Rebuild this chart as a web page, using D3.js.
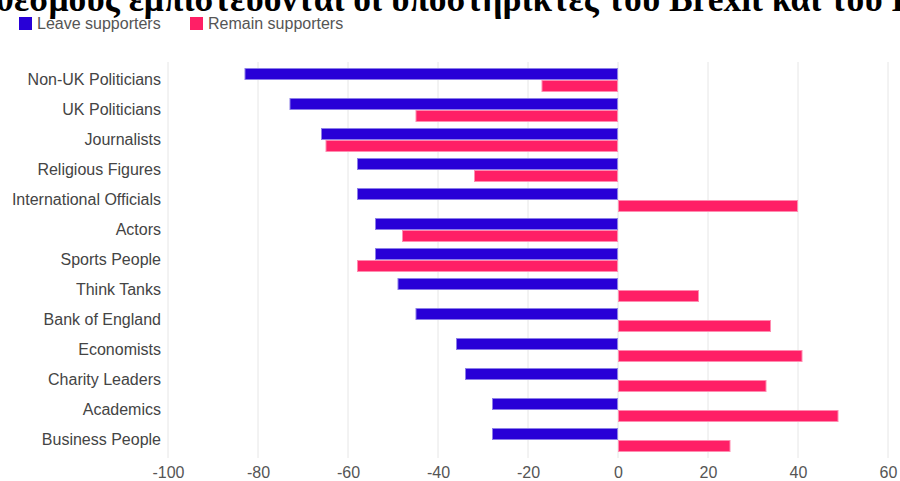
<!DOCTYPE html>
<html><head><meta charset="utf-8">
<script src="https://cdn.jsdelivr.net/npm/d3@7"></script>
<style>
html,body{margin:0;padding:0;background:#fff;overflow:hidden;}
svg{display:block;}
</style></head>
<body>
<svg id="chart" width="900" height="481"></svg>
<script>
const title = "Ποιους θεσμούς εμπιστεύονται οι υποστηρικτές του Brexit και του Remain";
const categories = ["Non-UK Politicians","UK Politicians","Journalists","Religious Figures","International Officials","Actors","Sports People","Think Tanks","Bank of England","Economists","Charity Leaders","Academics","Business People"];
const seriesNames = ["Leave supporters","Remain supporters"];
const leaveValues = [-83,-73,-66,-58,-58,-54,-54,-49,-45,-36,-34,-28,-28];
const remainValues = [-17,-45,-65,-32,40,-48,-58,18,34,41,33,49,25];
const xTicks = [-100,-80,-60,-40,-20,0,20,40,60];
const colors = ["#2800d7","#ff1f66"];
const strokes = ["#8c7fe8","#ff8cb0"];

const svg = d3.select("#chart");
const x = d3.scaleLinear().domain([-100,60]).range([168,888]);
const y = d3.scaleBand().domain(categories).range([65,455]).paddingInner(0.2).paddingOuter(0.1);
const ys = d3.scaleBand().domain(seriesNames).range([0,y.bandwidth()]);

// title
svg.append("text").attr("x",444.5).attr("y",11).attr("text-anchor","middle")
  .attr("font-family","'Liberation Serif', serif").attr("font-weight","bold")
  .attr("font-size",35.5).attr("fill","#000").text(title);

// legend
const leg = svg.append("g");
const legX = [19,190];
seriesNames.forEach((s,i)=>{
  leg.append("rect").attr("x",legX[i]).attr("y",17).attr("width",13).attr("height",13).attr("fill",colors[i]);
  leg.append("text").attr("x",legX[i]+18).attr("y",29).attr("font-family","'Liberation Sans', Arial, sans-serif")
    .attr("font-size",16).attr("fill","#555").text(s);
});

// grid
svg.append("g").selectAll("line").data(xTicks).join("line")
  .attr("x1",d=>x(d)).attr("x2",d=>x(d)).attr("y1",62).attr("y2",458)
  .attr("stroke","#e6e6e6").attr("stroke-width",1);

// x axis
const xAxis = d3.axisBottom(x).tickValues(xTicks).tickFormat(d=>String(d)).tickSize(0).tickPadding(0);
const gx = svg.append("g").attr("transform","translate(0,467)").call(xAxis);
gx.select(".domain").remove();
gx.selectAll("text").attr("font-family","'Liberation Sans', Arial, sans-serif").attr("font-size",16).attr("fill","#555").attr("dy","0.71em");

// y axis
const yAxis = d3.axisLeft(y).tickSize(0).tickPadding(0);
const gy = svg.append("g").attr("transform","translate(161,0)").call(yAxis);
gy.select(".domain").remove();
gy.selectAll("text").attr("font-family","'Liberation Sans', Arial, sans-serif").attr("font-size",16).attr("fill","#444");

// bars
const data = categories.map((c,i)=>({cat:c, vals:[leaveValues[i],remainValues[i]]}));
const groups = svg.append("g").selectAll("g").data(data).join("g")
  .attr("transform",d=>`translate(0,${y(d.cat)})`);
groups.selectAll("rect").data(d=>d.vals.map((v,i)=>({v,i,s:seriesNames[i]}))).join("rect")
  .attr("x",d=>x(Math.min(0,d.v))+0.5)
  .attr("width",d=>Math.abs(x(d.v)-x(0))-1)
  .attr("y",d=>ys(d.s)+0.5)
  .attr("height",ys.bandwidth()-1)
  .attr("fill",d=>colors[d.i])
  .attr("stroke",d=>strokes[d.i]).attr("stroke-width",1);
</script>
</body></html>
